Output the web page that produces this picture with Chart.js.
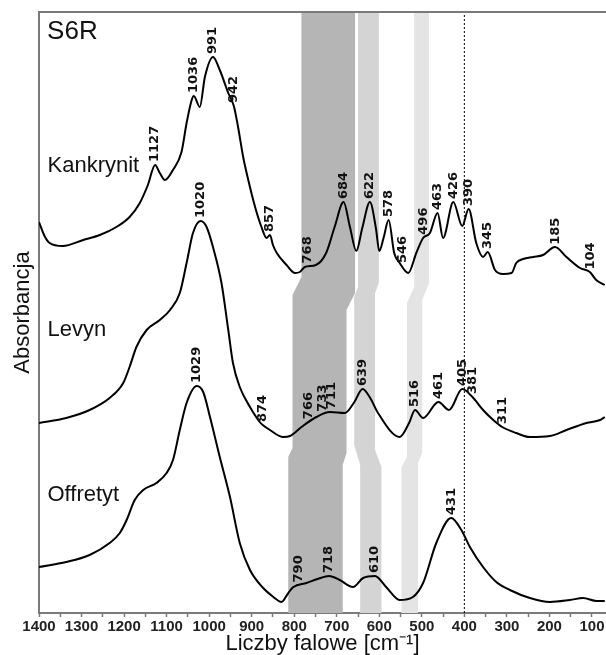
<!DOCTYPE html>
<html>
<head>
<meta charset="utf-8">
<script src="https://cdn.jsdelivr.net/npm/chart.js@4.4.1/dist/chart.umd.min.js"></script>
<style>
  html, body { margin: 0; padding: 0; background: #fff; }
</style>
</head>
<body>
<canvas id="chartS6R" width="606" height="655"></canvas>
<script>
(function () {
    'use strict';

    // spectra: wavenumber [cm-1] and absorbance (arbitrary, stacked)
    const kankrynitWn  = [1400, 1387, 1375, 1344, 1296, 1257, 1218, 1187, 1163, 1144, 1127, 1116, 1104, 1085, 1065, 1053, 1041, 1036, 1022, 1010, 991, 975, 955, 942, 932, 920, 908, 892, 877, 865, 857, 850, 841, 818, 798, 787, 775, 749, 725, 705, 684, 669, 654, 640, 622, 608, 600, 590, 578, 565, 552, 532, 513, 497, 481, 463, 450, 426, 405, 390, 372, 356, 345, 328, 309, 289, 278, 262, 238, 215, 187, 160, 128, 105, 90, 70];
    const kankrynitAbs = [391, 377, 370, 367, 373, 378, 386, 396, 410, 428, 448, 440, 433, 443, 461, 490, 513, 517, 506, 536, 556, 543, 520, 507, 486, 456, 433, 406, 386, 375, 378, 368, 360, 348, 340, 341, 346, 348, 360, 386, 411, 386, 362, 385, 411, 385, 362, 375, 393, 360, 350, 340, 360, 375, 380, 400, 375, 411, 387, 404, 370, 356, 361, 343, 339, 340, 350, 354, 356, 358, 366, 356, 345, 341, 333, 328];

    const levynWn  = [1400, 1336, 1281, 1234, 1202, 1187, 1171, 1147, 1116, 1092, 1069, 1053, 1038, 1020, 1006, 991, 971, 955, 944, 928, 904, 881, 874, 857, 826, 810, 783, 748, 716, 681, 660, 639, 620, 603, 552, 530, 516, 497, 461, 436, 405, 381, 356, 332, 311, 278, 246, 199, 160, 113, 81, 70];
    const levynAbs = [190, 195, 203, 215, 230, 246, 266, 283, 293, 303, 320, 350, 380, 392, 386, 366, 330, 283, 250, 226, 206, 191, 188, 183, 176, 177, 186, 196, 201, 200, 210, 224, 214, 200, 176, 190, 203, 195, 211, 203, 224, 216, 203, 193, 186, 180, 176, 177, 183, 190, 193, 196];

    const offretytWn  = [1400, 1336, 1281, 1234, 1210, 1194, 1175, 1155, 1124, 1100, 1085, 1069, 1053, 1029, 1014, 998, 975, 951, 928, 904, 873, 849, 830, 814, 802, 771, 745, 718, 693, 662, 638, 610, 584, 552, 521, 497, 466, 431, 407, 387, 356, 325, 293, 246, 199, 152, 121, 89, 70];
    const offretytAbs = [46, 51, 58, 70, 80, 93, 113, 123, 130, 140, 153, 183, 210, 227, 221, 196, 156, 116, 70, 43, 25, 16, 11, 20, 26, 30, 34, 37, 33, 26, 35, 37, 26, 13, 16, 30, 70, 95, 83, 66, 46, 31, 23, 15, 11, 13, 15, 12, 12];

    // labelled bands
    const kankrynitPeaks = [1127, 1036, 991, 942, 857, 768, 684, 622, 578, 546, 496, 463, 426, 390, 345, 185, 104];
    const levynPeaks     = [1020, 874, 766, 733, 711, 639, 516, 461, 405, 381, 311];
    const offretytPeaks  = [1029, 790, 718, 610, 431];

    // shaded regions: [wavenumber, absorbance] along left and right edges, top to bottom
    const darkBandLeft   = [[783, 601], [783, 336], [804, 318], [804, 165], [814, 156], [814, 0]];
    const darkBandRight  = [[657, 601], [657, 320], [677, 303], [677, 160], [686, 148], [686, 0]];
    const midBandLeft    = [[650, 601], [650, 326], [659, 316], [659, 168], [645, 148], [645, 0]];
    const midBandRight   = [[601, 601], [601, 330], [610, 320], [610, 163], [595, 146], [595, 0]];
    const lightBandLeft  = [[518, 601], [518, 326], [535, 310], [535, 156], [548, 146], [548, 0]];
    const lightBandRight = [[483, 601], [483, 330], [499, 313], [499, 160], [509, 150], [509, 0]];

    const markerWn = 400;

    const FONT = '"Liberation Sans", Arial, sans-serif';

    function pts(wn, ab) {
        return wn.map((w, i) => ({ x: w, y: ab[i] }));
    }

    function valueAt(wn, ab, w) {
        for (let i = 0; i < wn.length - 1; i++) {
            if (w <= wn[i] && w >= wn[i + 1]) {
                const t = (wn[i] - w) / (wn[i] - wn[i + 1]);
                return ab[i] + t * (ab[i + 1] - ab[i]);
            }
        }
        return ab[ab.length - 1];
    }

    const bandsPlugin = {
        id: 'bands',
        beforeDatasetsDraw(chart) {
            const { ctx, scales: { x, y } } = chart;
            const bands = [
                [darkBandLeft, darkBandRight, '#b5b5b5'],
                [midBandLeft, midBandRight, '#d4d4d4'],
                [lightBandLeft, lightBandRight, '#e4e4e4']
            ];
            ctx.save();
            bands.forEach(([left, right, color]) => {
                ctx.beginPath();
                left.forEach((p, i) => {
                    const px = x.getPixelForValue(p[0]), py = y.getPixelForValue(p[1]);
                    if (i === 0) ctx.moveTo(px, py); else ctx.lineTo(px, py);
                });
                right.slice().reverse().forEach(p => {
                    ctx.lineTo(x.getPixelForValue(p[0]), y.getPixelForValue(p[1]));
                });
                ctx.closePath();
                ctx.fillStyle = color;
                ctx.fill();
            });
            ctx.restore();
        }
    };

    const labelsPlugin = {
        id: 'peakLabels',
        afterDatasetsDraw(chart) {
            const { ctx, chartArea, scales: { x, y } } = chart;
            const sets = [
                [kankrynitPeaks, kankrynitWn, kankrynitAbs],
                [levynPeaks, levynWn, levynAbs],
                [offretytPeaks, offretytWn, offretytAbs]
            ];
            ctx.save();
            // frame top
            ctx.strokeStyle = '#7a7a7a';
            ctx.lineWidth = 2;
            ctx.beginPath();
            ctx.moveTo(chartArea.left - 1, chartArea.top);
            ctx.lineTo(chartArea.right, chartArea.top);
            ctx.stroke();

            ctx.fillStyle = '#111';
            ctx.font = 'bold 13px "DejaVu Sans", sans-serif';
            ctx.textAlign = 'left';
            ctx.textBaseline = 'middle';
            sets.forEach(([peaks, wn, ab]) => {
                peaks.forEach(p => {
                    const px = x.getPixelForValue(p);
                    const py = y.getPixelForValue(valueAt(wn, ab, p)) - 3;
                    ctx.save();
                    ctx.translate(px, py);
                    ctx.rotate(-Math.PI / 2);
                    ctx.fillText(String(p), 0, 0);
                    ctx.restore();
                });
            });

            ctx.textBaseline = 'alphabetic';
            ctx.font = '22px ' + FONT;
            ctx.fillText('Kankrynit', x.getPixelForValue(1380), y.getPixelForValue(441));
            ctx.fillText('Levyn', x.getPixelForValue(1380), y.getPixelForValue(277));
            ctx.fillText('Offretyt', x.getPixelForValue(1380), y.getPixelForValue(112));
            ctx.font = '26px ' + FONT;
            ctx.fillText('S6R', x.getPixelForValue(1381), y.getPixelForValue(574));
            ctx.restore();
        }
    };

    const spectrum = (label, data) => ({
        label,
        data,
        borderColor: '#000',
        borderWidth: 2,
        pointRadius: 0,
        cubicInterpolationMode: 'monotone',
        fill: false
    });

    new Chart(document.getElementById('chartS6R'), {
        type: 'line',
        data: {
            datasets: [
                {
                    label: '400',
                    data: [{ x: markerWn, y: 0 }, { x: markerWn, y: 601 }],
                    borderColor: '#000',
                    borderWidth: 1,
                    borderDash: [2, 2],
                    pointRadius: 0
                },
                spectrum('Kankrynit', pts(kankrynitWn, kankrynitAbs)),
                spectrum('Levyn', pts(levynWn, levynAbs)),
                spectrum('Offretyt', pts(offretytWn, offretytAbs))
            ]
        },
        options: {
            responsive: false,
            animation: false,
            devicePixelRatio: 1,
            layout: { padding: { top: 12, left: 0, right: 0, bottom: 0 } },
            plugins: { legend: { display: false }, tooltip: { enabled: false } },
            scales: {
                x: {
                    type: 'linear',
                    reverse: true,
                    min: 67,
                    max: 1400,
                    afterFit: s => { s.height = 42; },
                    border: { color: '#7a7a7a', width: 2 },
                    grid: { drawOnChartArea: false, drawTicks: true, tickLength: 4, color: '#7a7a7a', tickWidth: 1.5 },
                    ticks: {
                        stepSize: 50,
                        includeBounds: false,
                        autoSkip: false,
                        maxRotation: 0,
                        padding: 1,
                        color: '#222',
                        font: { family: FONT, size: 15, weight: 'bold' },
                        callback: v => (v % 100 === 0 ? String(v) : '')
                    },
                    title: {
                        display: true,
                        text: 'Liczby falowe [cm\u207B\u00B9]',
                        color: '#111',
                        font: { family: FONT, size: 22, lineHeight: 1 },
                        padding: { top: 0, bottom: 0 }
                    }
                },
                y: {
                    type: 'linear',
                    min: 0,
                    max: 601,
                    afterFit: s => { s.width = 39; },
                    border: { color: '#7a7a7a', width: 2 },
                    grid: { display: false },
                    ticks: { display: false },
                    title: {
                        display: true,
                        text: 'Absorbancja',
                        color: '#111',
                        font: { family: FONT, size: 22, lineHeight: 1 },
                        padding: { top: 12, bottom: 0 }
                    }
                }
            }
        },
        plugins: [bandsPlugin, labelsPlugin]
    });
})();
</script>
</body>
</html>
